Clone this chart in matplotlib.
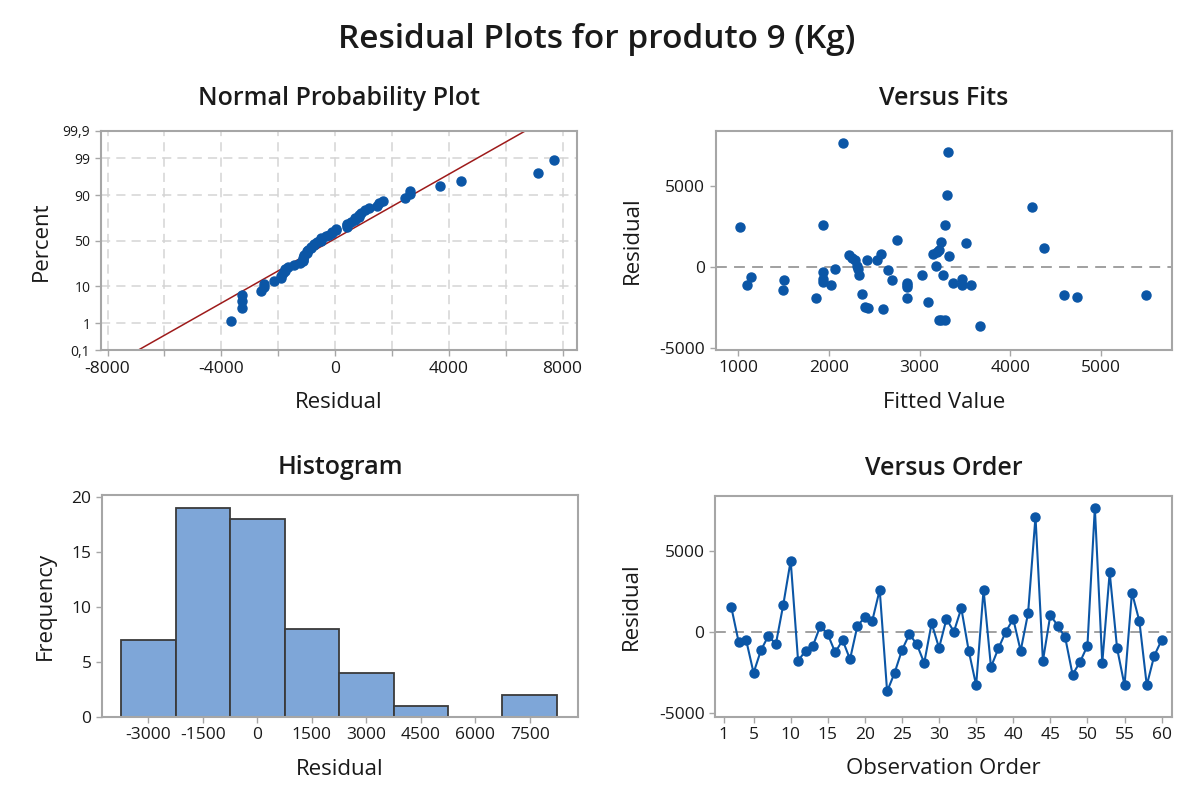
import matplotlib
matplotlib.use("Agg")
import matplotlib.pyplot as plt
import numpy as np
from statistics import NormalDist

plt.rcParams['font.family'] = ['Open Sans', 'DejaVu Sans']
plt.rcParams['axes.unicode_minus'] = False

# residuals and fits, observations 2..60
obs_order = list(range(2, 61))
residuals = [1550, -620, -480, -2500, -1100, -210, -730, 1700, 4430, -1760,
             -1140, -830, 410, -110, -1240, -480, -1660, 410, 930, 720,
             2630, -3650, -2510, -1100, -110, -730, -1890, 560, -960, 830,
             40, 1490, -1140, -3270, 2630, -2140, -990, 40, 830, -1140,
             1180, 7150, -1760, 1070, 410, -310, -2610, -1830, -830, 7700,
             -1890, 3700, -990, -3270, 2460, 700, -3270, -1450, -480]
fitted = [3240, 1143, 3256, 2400, 2021, 2657, 1933, 2749, 3300, 5493,
          1096, 2694, 2418, 2320, 2866, 2330, 2363, 2290, 3190, 2227,
          1940, 3667, 2430, 3465, 2069, 3465, 2866, 2260, 1933, 2576,
          2310, 3512, 2866, 3215, 3281, 3090, 3372, 3182, 3150, 3564,
          4375, 3315, 4596, 3220, 2528, 1933, 2601, 4732, 1510, 2160,
          1860, 4236, 2866, 3240, 1022, 3329, 3280, 1500, 3024]

prob_ticks = [0.1, 1, 10, 50, 90, 99, 99.9]
prob_labels = ['0,1', '1', '10', '50', '90', '99', '99,9']
hist_edges = np.arange(-3750, 8251, 1500)

BLUE = '#0b56a6'
RED = '#9e1b1b'
BAR = '#7ea6d8'
EDGE = '#3a3a3a'
SPINE = '#a6a6a6'
GRID = '#d4d4d4'
TXT = '#1a1a1a'

W, H = 1194, 792
fig = plt.figure(figsize=(W / 100, H / 100), dpi=100)


def px_axes(l, t, r, b):
    return fig.add_axes([l / W, 1 - b / H, (r - l) / W, (b - t) / H])


def style(ax):
    for s in ax.spines.values():
        s.set_color(SPINE)
        s.set_linewidth(1.5)
    ax.tick_params(colors=SPINE, labelcolor=TXT, labelsize=12.5, length=4, width=1)


def titles(ax, title, xlabel, ylabel, tpad=19, xpad=11, ypad=12):
    ax.set_title(title, fontsize=18, fontweight='semibold', color=TXT, pad=tpad)
    ax.set_xlabel(xlabel, fontsize=16, color=TXT, labelpad=xpad)
    ax.set_ylabel(ylabel, fontsize=16, color=TXT, labelpad=ypad)


fig.text(0.5, 1 - 40 / H, 'Residual Plots for produto 9 (Kg)', ha='center', va='center',
         fontsize=24, fontweight='semibold', color=TXT)

# Normal probability plot
ax1 = px_axes(100.7, 131, 577.3, 350.5)
style(ax1)
res = np.array(residuals, dtype=float)
n = len(res)
nd = NormalDist()
srt = np.sort(res)
z = np.array([nd.inv_cdf((i - 0.3) / (n + 0.4)) for i in range(1, n + 1)])
zlim = nd.inv_cdf(0.001)
mu, sd = res.mean(), res.std(ddof=1)
zz = np.array([zlim, -zlim])
ax1.plot(mu + sd * zz, zz, color=RED, lw=1.1, zorder=2)
ax1.plot(srt, z, 'o', color=BLUE, ms=6.5, zorder=3)
ax1.set_xlim(-8240, 8520)
ax1.set_ylim(zlim, -zlim)
ax1.set_xticks(np.arange(-8000, 8001, 2000))
ax1.set_xticklabels([str(v) if v % 4000 == 0 else '' for v in range(-8000, 8001, 2000)])
ax1.set_yticks([nd.inv_cdf(p / 100) for p in prob_ticks])
ax1.set_yticklabels(prob_labels, fontsize=10)
ax1.grid(True, color=GRID, ls=(0, (6, 4)), lw=1.1)
ax1.set_axisbelow(True)
titles(ax1, 'Normal Probability Plot', 'Residual', 'Percent', ypad=8)

# Versus fits
ax2 = px_axes(715.7, 131, 1172.3, 350)
style(ax2)
ax2.axhline(0, color='#999999', ls=(0, (6, 4)), lw=1.3, zorder=1)
ax2.plot(fitted, residuals, 'o', color=BLUE, ms=6.5, zorder=3)
ax2.set_xlim(754, 5786)
ax2.set_ylim(-5142, 8426)
ax2.set_xticks([1000, 2000, 3000, 4000, 5000])
ax2.set_yticks([-5000, 0, 5000])
titles(ax2, 'Versus Fits', 'Fitted Value', 'Residual', ypad=12)

# Histogram
ax3 = px_axes(102, 495, 578, 717)
style(ax3)
ax3.hist(residuals, bins=hist_edges, color=BAR, edgecolor=EDGE, lw=1.3)
ax3.set_xlim(-4273, 8828)
ax3.set_ylim(0, 20.2)
ax3.set_xticks(np.arange(-3000, 7501, 1500))
ax3.set_yticks([0, 5, 10, 15, 20])
titles(ax3, 'Histogram', 'Residual', 'Frequency', tpad=15, ypad=11)

# Versus order
ax4 = px_axes(715, 495.7, 1172, 716.7)
style(ax4)
ax4.axhline(0, color='#999999', ls=(0, (6, 4)), lw=1.3, zorder=1)
ax4.plot(obs_order, residuals, '-o', color=BLUE, lw=1.5, ms=6.5, zorder=3)
ax4.set_xlim(-0.2, 61.4)
ax4.set_ylim(-5210, 8444)
ax4.set_xticks([1] + list(range(5, 61, 5)))
ax4.set_yticks([-5000, 0, 5000])
titles(ax4, 'Versus Order', 'Observation Order', 'Residual', tpad=15, ypad=12)

fig.savefig('out.png', dpi=100, facecolor='white')
